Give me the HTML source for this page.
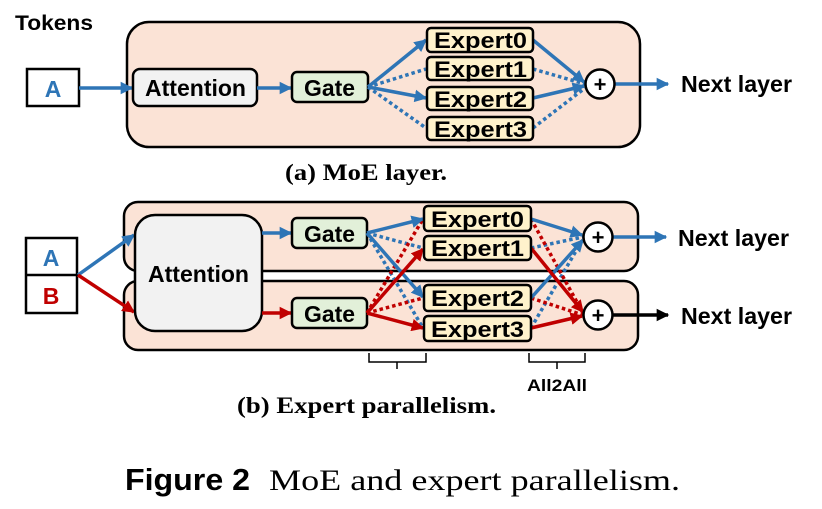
<!DOCTYPE html>
<html><head><meta charset="utf-8"><style>
html,body{margin:0;padding:0;background:#fff;}
svg{display:block;}
.s{font-family:"Liberation Sans",Arial,sans-serif;font-weight:bold;}
.r{font-family:"Liberation Serif","Times New Roman",serif;}
</style></head><body>
<svg width="822" height="509" viewBox="0 0 822 509" xmlns="http://www.w3.org/2000/svg">
<defs>
<marker id="ab" viewBox="0 0 10 10" refX="9" refY="5" markerWidth="3.6" markerHeight="3.6" orient="auto"><path d="M0,0L10,5L0,10z" fill="#2E75B6"/></marker>
<marker id="ar" viewBox="0 0 10 10" refX="9" refY="5" markerWidth="3.6" markerHeight="3.6" orient="auto"><path d="M0,0L10,5L0,10z" fill="#C00000"/></marker>
<marker id="ak" viewBox="0 0 10 10" refX="9" refY="5" markerWidth="3.6" markerHeight="3.6" orient="auto"><path d="M0,0L10,5L0,10z" fill="#000"/></marker>
</defs>

<!-- (a) -->
<text x="15" y="30" class="s" font-size="21" textLength="78" lengthAdjust="spacingAndGlyphs">Tokens</text>
<rect x="127" y="22" width="513" height="125" rx="22" fill="#FBE3D6" stroke="#000" stroke-width="2.5"/>
<rect x="27" y="69" width="52" height="37" fill="#fff" stroke="#000" stroke-width="2.5"/>
<text x="53" y="97" class="s" font-size="23" fill="#2E75B6" text-anchor="middle">A</text>
<line x1="79" y1="88" x2="132" y2="88" stroke="#2E75B6" stroke-width="3.5" marker-end="url(#ab)"/>
<rect x="133" y="69" width="124" height="37" rx="7" fill="#F2F2F2" stroke="#000" stroke-width="2.5"/>
<text x="145" y="96" class="s" font-size="23" textLength="101" lengthAdjust="spacingAndGlyphs">Attention</text>
<line x1="257" y1="88" x2="291" y2="88" stroke="#2E75B6" stroke-width="3.5" marker-end="url(#ab)"/>
<rect x="292" y="72" width="76" height="30" rx="5" fill="#E2F0D9" stroke="#000" stroke-width="2.5"/>
<text x="304" y="96" class="s" font-size="23" textLength="51" lengthAdjust="spacingAndGlyphs">Gate</text>
<g stroke="#2E75B6" stroke-width="3.5" fill="none">
<line x1="368" y1="87" x2="426" y2="40" marker-end="url(#ab)"/>
<line x1="368" y1="87" x2="426" y2="98" marker-end="url(#ab)"/>
<line x1="368" y1="87" x2="426" y2="69" stroke-dasharray="3.5,3"/>
<line x1="368" y1="87" x2="426" y2="128" stroke-dasharray="3.5,3"/>
<line x1="533" y1="40" x2="584" y2="82" marker-end="url(#ab)"/>
<line x1="533" y1="98" x2="584" y2="86" marker-end="url(#ab)"/>
<line x1="533" y1="69" x2="585" y2="84" stroke-dasharray="3.5,3"/>
<line x1="533" y1="128" x2="585" y2="88" stroke-dasharray="3.5,3"/>
<line x1="615" y1="84" x2="668" y2="84" marker-end="url(#ab)"/>
</g>
<g fill="#FFF2CC" stroke="#000" stroke-width="2.5">
<rect x="427" y="28" width="106" height="24" rx="4"/>
<rect x="427" y="57" width="106" height="23" rx="4"/>
<rect x="427" y="87" width="106" height="23" rx="4"/>
<rect x="427" y="117" width="106" height="23" rx="4"/>
</g>
<g class="s" font-size="22">
<text x="434" y="48" textLength="93" lengthAdjust="spacingAndGlyphs">Expert0</text>
<text x="434" y="77" textLength="93" lengthAdjust="spacingAndGlyphs">Expert1</text>
<text x="434" y="107" textLength="93" lengthAdjust="spacingAndGlyphs">Expert2</text>
<text x="434" y="137" textLength="93" lengthAdjust="spacingAndGlyphs">Expert3</text>
</g>
<circle cx="600" cy="84" r="14.5" fill="#fff" stroke="#000" stroke-width="2.5"/>
<text x="600" y="92" class="s" font-size="22" text-anchor="middle">+</text>
<text x="681" y="92" class="s" font-size="23" textLength="111" lengthAdjust="spacingAndGlyphs">Next layer</text>
<text x="285" y="180" class="r" font-size="23" font-weight="bold" textLength="162" lengthAdjust="spacingAndGlyphs">(a) MoE layer.</text>

<!-- (b) -->
<rect x="124" y="202" width="514" height="69" rx="14" fill="#FBE3D6" stroke="#000" stroke-width="2.5"/>
<rect x="124" y="281" width="514" height="69" rx="14" fill="#FBE3D6" stroke="#000" stroke-width="2.5"/>
<rect x="26" y="238" width="51" height="75" fill="#fff" stroke="#000" stroke-width="2.5"/>
<line x1="26" y1="275" x2="77" y2="275" stroke="#000" stroke-width="2.5"/>
<text x="51" y="266" class="s" font-size="23" fill="#2E75B6" text-anchor="middle">A</text>
<text x="51" y="304" class="s" font-size="23" fill="#C00000" text-anchor="middle">B</text>
<line x1="78" y1="275" x2="134" y2="235" stroke="#2E75B6" stroke-width="3.5" marker-end="url(#ab)"/>
<line x1="78" y1="275" x2="134" y2="312" stroke="#C00000" stroke-width="3.5" marker-end="url(#ar)"/>
<rect x="135" y="215" width="127" height="116" rx="20" fill="#F2F2F2" stroke="#000" stroke-width="2.5"/>
<text x="148" y="282" class="s" font-size="23" textLength="101" lengthAdjust="spacingAndGlyphs">Attention</text>
<line x1="262" y1="233" x2="291" y2="233" stroke="#2E75B6" stroke-width="3.5" marker-end="url(#ab)"/>
<line x1="262" y1="313" x2="291" y2="313" stroke="#C00000" stroke-width="3.5" marker-end="url(#ar)"/>
<rect x="292" y="218" width="75" height="30" rx="5" fill="#E2F0D9" stroke="#000" stroke-width="2.5"/>
<rect x="292" y="298" width="75" height="30" rx="5" fill="#E2F0D9" stroke="#000" stroke-width="2.5"/>
<text x="304" y="242" class="s" font-size="23" textLength="51" lengthAdjust="spacingAndGlyphs">Gate</text>
<text x="304" y="322" class="s" font-size="23" textLength="51" lengthAdjust="spacingAndGlyphs">Gate</text>
<g stroke-width="3.5" fill="none">
<line x1="367" y1="233" x2="423" y2="248" stroke="#2E75B6" stroke-dasharray="3.5,3"/>
<line x1="367" y1="233" x2="423" y2="328" stroke="#2E75B6" stroke-dasharray="3.5,3"/>
<line x1="367" y1="313" x2="423" y2="219" stroke="#C00000" stroke-dasharray="3.5,3"/>
<line x1="367" y1="313" x2="423" y2="298" stroke="#C00000" stroke-dasharray="3.5,3"/>
<line x1="367" y1="233" x2="423" y2="219" stroke="#2E75B6" marker-end="url(#ab)"/>
<line x1="367" y1="233" x2="423" y2="297" stroke="#2E75B6" marker-end="url(#ab)"/>
<line x1="367" y1="313" x2="423" y2="249" stroke="#C00000" marker-end="url(#ar)"/>
<line x1="367" y1="313" x2="423" y2="328" stroke="#C00000" marker-end="url(#ar)"/>
<line x1="531" y1="248" x2="583" y2="237" stroke="#2E75B6" stroke-dasharray="3.5,3"/>
<line x1="531" y1="328" x2="583" y2="239" stroke="#2E75B6" stroke-dasharray="3.5,3"/>
<line x1="531" y1="219" x2="583" y2="313" stroke="#C00000" stroke-dasharray="3.5,3"/>
<line x1="531" y1="298" x2="583" y2="315" stroke="#C00000" stroke-dasharray="3.5,3"/>
<line x1="531" y1="219" x2="582" y2="235" stroke="#2E75B6" marker-end="url(#ab)"/>
<line x1="531" y1="298" x2="583" y2="240" stroke="#2E75B6" marker-end="url(#ab)"/>
<line x1="531" y1="248" x2="583" y2="312" stroke="#C00000" marker-end="url(#ar)"/>
<line x1="531" y1="328" x2="582" y2="316" stroke="#C00000" marker-end="url(#ar)"/>
<line x1="613" y1="237" x2="666" y2="237" stroke="#2E75B6" marker-end="url(#ab)"/>
<line x1="613" y1="315" x2="668" y2="315" stroke="#000" marker-end="url(#ak)"/>
</g>
<g fill="#FFF2CC" stroke="#000" stroke-width="2.5">
<rect x="424" y="206" width="107" height="25" rx="4"/>
<rect x="424" y="236" width="107" height="24" rx="4"/>
<rect x="424" y="285" width="107" height="26" rx="4"/>
<rect x="424" y="316" width="107" height="25" rx="4"/>
</g>
<g class="s" font-size="22">
<text x="431" y="227" textLength="93" lengthAdjust="spacingAndGlyphs">Expert0</text>
<text x="431" y="256" textLength="93" lengthAdjust="spacingAndGlyphs">Expert1</text>
<text x="431" y="306" textLength="93" lengthAdjust="spacingAndGlyphs">Expert2</text>
<text x="431" y="337" textLength="93" lengthAdjust="spacingAndGlyphs">Expert3</text>
</g>
<circle cx="598" cy="237" r="14.5" fill="#fff" stroke="#000" stroke-width="2.5"/>
<text x="598" y="245" class="s" font-size="22" text-anchor="middle">+</text>
<circle cx="598" cy="315" r="14.5" fill="#fff" stroke="#000" stroke-width="2.5"/>
<text x="598" y="323" class="s" font-size="22" text-anchor="middle">+</text>
<text x="678" y="246" class="s" font-size="23" textLength="111" lengthAdjust="spacingAndGlyphs">Next layer</text>
<text x="681" y="324" class="s" font-size="23" textLength="111" lengthAdjust="spacingAndGlyphs">Next layer</text>
<path d="M369,353V362H426V353M397,362V369" fill="none" stroke="#000" stroke-width="1.5"/>
<path d="M529,353V362H585V353M557,362V369" fill="none" stroke="#000" stroke-width="1.5"/>
<text x="527" y="391" class="s" font-size="17" textLength="60" lengthAdjust="spacingAndGlyphs">All2All</text>
<text x="237" y="413" class="r" font-size="23" font-weight="bold" textLength="259" lengthAdjust="spacingAndGlyphs">(b) Expert parallelism.</text>

<text x="125" y="490" class="s" font-size="31" textLength="125" lengthAdjust="spacingAndGlyphs">Figure 2</text>
<text x="269" y="490" class="r" font-size="30" textLength="411" lengthAdjust="spacingAndGlyphs">MoE and expert parallelism.</text>
</svg>
</body></html>
